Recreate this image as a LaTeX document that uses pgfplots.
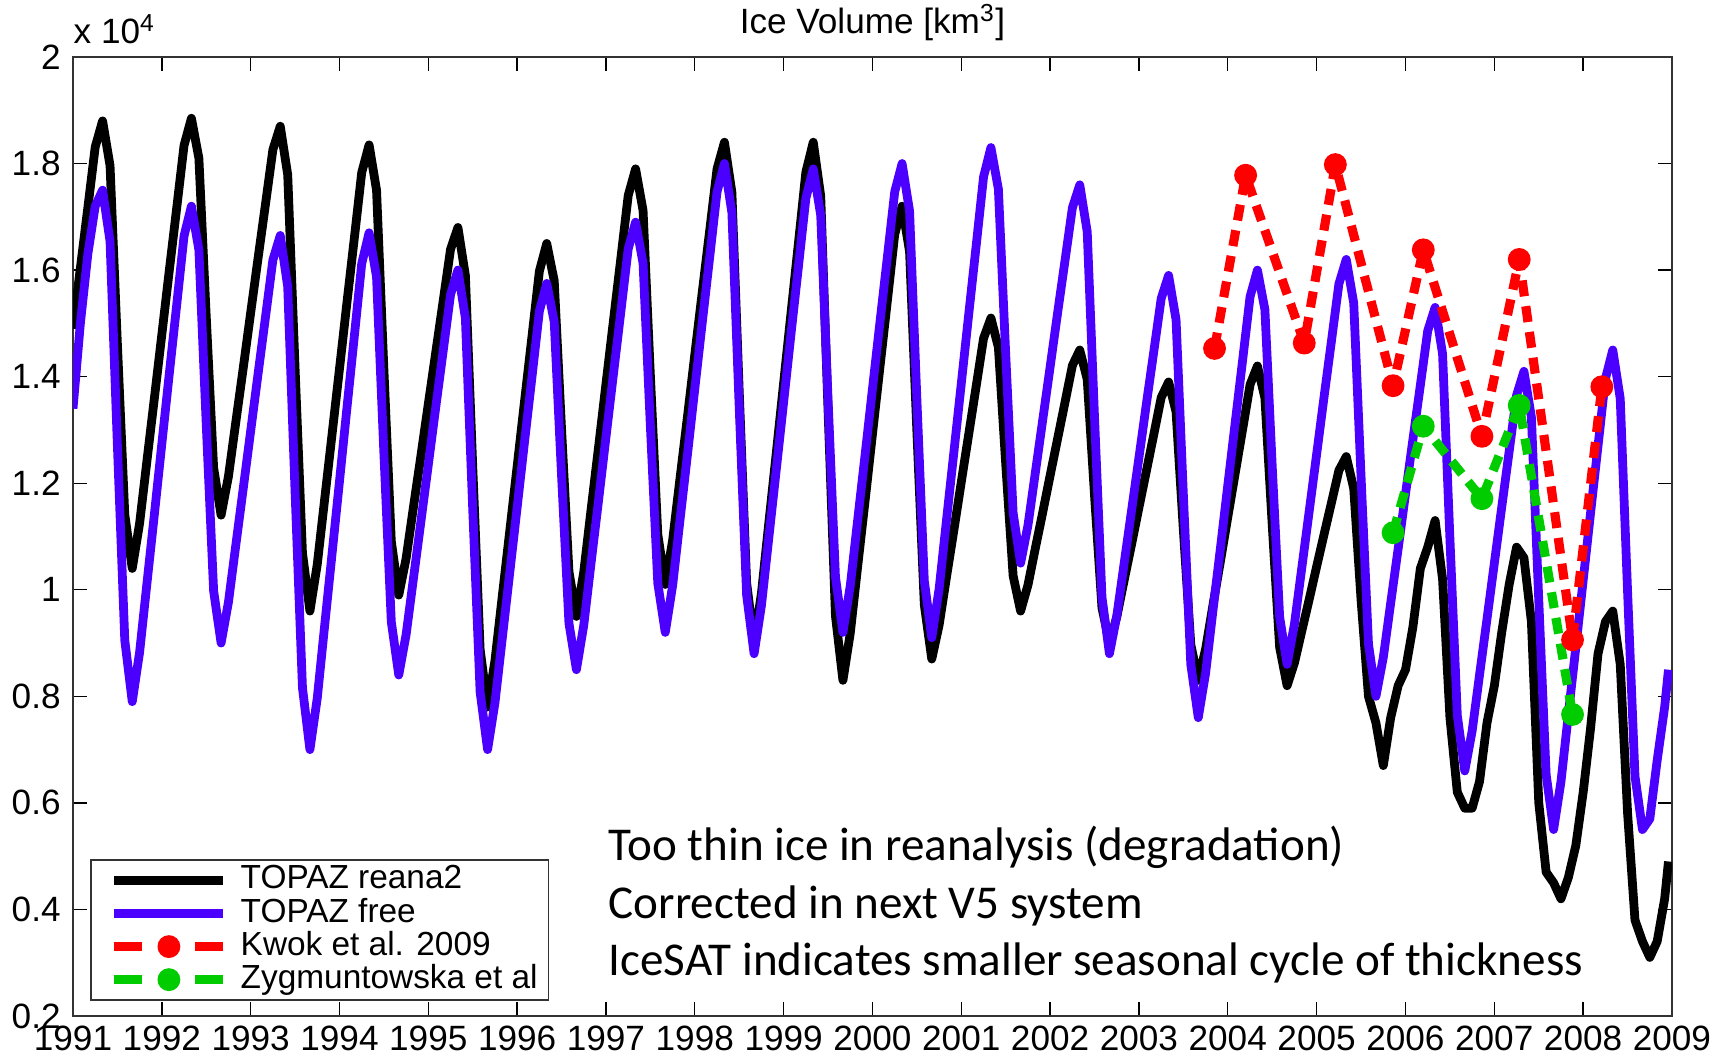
\documentclass[border=0pt]{standalone}
\usepackage{fontspec}
\setmainfont{Liberation Sans}
\newfontfamily\calibri{Carlito}
\usepackage{pgfplots}
\pgfplotsset{compat=1.18}
\definecolor{topazblue}{RGB}{75,0,255}
\definecolor{kwokred}{RGB}{255,0,0}
\definecolor{zyggreen}{RGB}{0,204,0}
% legend sample for the dashed series: dash, marker, dash
\pgfplotsset{dashlegend/.style={legend image code/.code={\path (0mm,0mm);
    \draw[##1,solid] (1mm,0mm) -- (3.8mm,0mm) (9.1mm,0mm) -- (11.9mm,0mm);
    \draw[##1] plot coordinates {(6.45mm,0mm)};}}}

\begin{document}
\begin{tikzpicture}
\begin{axis}[
  name=ax,
  at={(0,0)}, anchor=south west,
  scale only axis,
  width=159.9mm, height=95.9mm,
  xmin=1991, xmax=2009, ymin=0.2, ymax=2,
  xtick={1991,...,2009},
  ytick={0.2,0.4,0.6,0.8,1,1.2,1.4,1.6,1.8,2},
  tick align=inside,
  major tick length=1.4mm,
  tick style={black, line width=0.4pt},
  axis line style={black!80, line width=0.5pt},
  scaled ticks=false,
  xticklabel style={/pgf/number format/1000 sep=, inner ysep=0.9mm, text depth=0pt},
  /pgf/number format/assume math mode=true,
  tick label style={font=\fontsize{10}{12}\selectfont},
  legend image code/.code={\path (0mm,0mm); \draw[#1] (1mm,0mm) -- (11.9mm,0mm);},
  legend cell align=left,
  legend style={
    at={(0.0106,0.0156)}, anchor=south west,
    draw=black!80, line width=0.5pt, fill=white,
    font=\fontsize{9.5}{11}\selectfont,
    inner xsep=0.9mm, inner ysep=0.4mm,
    row sep=0pt,
    nodes={inner sep=0.5pt, text height=6.6pt, text depth=1.8pt},
    /tikz/every odd column/.append style={column sep=1.1mm},
  },
]
% TOPAZ reanalysis, monthly ice volume
\addplot[black, line width=2.5pt, line join=round] coordinates {
(1991.000,1.490) (1991.083,1.604) (1991.167,1.717) (1991.250,1.831) (1991.333,1.880) (1991.417,1.796) (1991.500,1.460) (1991.583,1.141) (1991.667,1.040) (1991.750,1.125) (1991.833,1.243) (1991.917,1.361)
(1992.000,1.479) (1992.083,1.598) (1992.167,1.716) (1992.250,1.834) (1992.333,1.885) (1992.417,1.810) (1992.500,1.512) (1992.583,1.229) (1992.667,1.140) (1992.750,1.213) (1992.833,1.315) (1992.917,1.417)
(1993.000,1.520) (1993.083,1.622) (1993.167,1.724) (1993.250,1.826) (1993.333,1.870) (1993.417,1.779) (1993.500,1.415) (1993.583,1.069) (1993.667,0.960) (1993.750,1.048) (1993.833,1.170) (1993.917,1.293)
(1994.000,1.415) (1994.083,1.538) (1994.167,1.660) (1994.250,1.783) (1994.333,1.835) (1994.417,1.750) (1994.500,1.412) (1994.583,1.091) (1994.667,0.990) (1994.750,1.059) (1994.833,1.156) (1994.917,1.252)
(1995.000,1.349) (1995.083,1.445) (1995.167,1.542) (1995.250,1.639) (1995.333,1.680) (1995.417,1.590) (1995.500,1.230) (1995.583,0.888) (1995.667,0.780) (1995.750,0.867) (1995.833,0.989) (1995.917,1.111)
(1996.000,1.232) (1996.083,1.354) (1996.167,1.476) (1996.250,1.598) (1996.333,1.650) (1996.417,1.580) (1996.500,1.300) (1996.583,1.034) (1996.667,0.950) (1996.750,1.034) (1996.833,1.152) (1996.917,1.269)
(1997.000,1.387) (1997.083,1.504) (1997.167,1.622) (1997.250,1.740) (1997.333,1.790) (1997.417,1.712) (1997.500,1.400) (1997.583,1.104) (1997.667,1.010) (1997.750,1.093) (1997.833,1.209) (1997.917,1.325)
(1998.000,1.442) (1998.083,1.558) (1998.167,1.674) (1998.250,1.790) (1998.333,1.840) (1998.417,1.746) (1998.500,1.370) (1998.583,1.013) (1998.667,0.900) (1998.750,0.994) (1998.833,1.126) (1998.917,1.257)
(1999.000,1.389) (1999.083,1.520) (1999.167,1.652) (1999.250,1.784) (1999.333,1.840) (1999.417,1.739) (1999.500,1.335) (1999.583,0.951) (1999.667,0.830) (1999.750,0.919) (1999.833,1.044) (1999.917,1.168)
(2000.000,1.293) (2000.083,1.417) (2000.167,1.542) (2000.250,1.667) (2000.333,1.720) (2000.417,1.635) (2000.500,1.295) (2000.583,0.972) (2000.667,0.870) (2000.750,0.934) (2000.833,1.024) (2000.917,1.113)
(2001.000,1.203) (2001.083,1.292) (2001.167,1.382) (2001.250,1.472) (2001.333,1.510) (2001.417,1.455) (2001.500,1.235) (2001.583,1.026) (2001.667,0.960) (2001.750,1.009) (2001.833,1.078) (2001.917,1.146)
(2002.000,1.215) (2002.083,1.283) (2002.167,1.352) (2002.250,1.421) (2002.333,1.450) (2002.417,1.395) (2002.500,1.175) (2002.583,0.966) (2002.667,0.900) (2002.750,0.949) (2002.833,1.018) (2002.917,1.086)
(2003.000,1.155) (2003.083,1.223) (2003.167,1.292) (2003.250,1.361) (2003.333,1.390) (2003.417,1.334) (2003.500,1.110) (2003.583,0.897) (2003.667,0.830) (2003.750,0.889) (2003.833,0.972) (2003.917,1.054)
(2004.000,1.137) (2004.083,1.219) (2004.167,1.302) (2004.250,1.385) (2004.333,1.420) (2004.417,1.360) (2004.500,1.120) (2004.583,0.892) (2004.667,0.820) (2004.750,0.863) (2004.833,0.923) (2004.917,0.983)
(2005.000,1.044) (2005.083,1.104) (2005.167,1.164) (2005.250,1.224) (2005.333,1.250) (2005.417,1.190) (2005.500,0.980) (2005.583,0.800) (2005.667,0.750) (2005.750,0.670) (2005.833,0.760) (2005.917,0.820)
(2006.000,0.850) (2006.083,0.930) (2006.167,1.040) (2006.250,1.080) (2006.333,1.130) (2006.417,1.020) (2006.500,0.760) (2006.583,0.620) (2006.667,0.590) (2006.750,0.590) (2006.833,0.640) (2006.917,0.750)
(2007.000,0.820) (2007.083,0.920) (2007.167,1.010) (2007.250,1.080) (2007.333,1.060) (2007.417,0.940) (2007.500,0.600) (2007.583,0.470) (2007.667,0.450) (2007.750,0.420) (2007.833,0.460) (2007.917,0.520)
(2008.000,0.620) (2008.083,0.740) (2008.167,0.880) (2008.250,0.940) (2008.333,0.960) (2008.417,0.860) (2008.500,0.580) (2008.583,0.380) (2008.667,0.340) (2008.750,0.310) (2008.833,0.340) (2008.917,0.420)
(2008.960,0.490)
};
\addlegendentry{TOPAZ reana2}
% TOPAZ free run, monthly ice volume
\addplot[topazblue, line width=2.5pt, line join=round] coordinates {
(1991.000,1.340) (1991.083,1.500) (1991.167,1.630) (1991.250,1.720) (1991.333,1.750) (1991.417,1.654) (1991.500,1.270) (1991.583,0.905) (1991.667,0.790) (1991.750,0.883) (1991.833,1.013) (1991.917,1.143)
(1992.000,1.274) (1992.083,1.404) (1992.167,1.534) (1992.250,1.664) (1992.333,1.720) (1992.417,1.638) (1992.500,1.310) (1992.583,0.998) (1992.667,0.900) (1992.750,0.977) (1992.833,1.084) (1992.917,1.191)
(1993.000,1.298) (1993.083,1.405) (1993.167,1.512) (1993.250,1.619) (1993.333,1.665) (1993.417,1.569) (1993.500,1.183) (1993.583,0.816) (1993.667,0.700) (1993.750,0.797) (1993.833,0.933) (1993.917,1.069)
(1994.000,1.204) (1994.083,1.340) (1994.167,1.476) (1994.250,1.612) (1994.333,1.670) (1994.417,1.587) (1994.500,1.255) (1994.583,0.940) (1994.667,0.840) (1994.750,0.916) (1994.833,1.022) (1994.917,1.129)
(1995.000,1.235) (1995.083,1.342) (1995.167,1.448) (1995.250,1.554) (1995.333,1.600) (1995.417,1.510) (1995.500,1.150) (1995.583,0.808) (1995.667,0.700) (1995.750,0.788) (1995.833,0.910) (1995.917,1.033)
(1996.000,1.155) (1996.083,1.278) (1996.167,1.400) (1996.250,1.523) (1996.333,1.575) (1996.417,1.503) (1996.500,1.213) (1996.583,0.937) (1996.667,0.850) (1996.750,0.934) (1996.833,1.052) (1996.917,1.169)
(1997.000,1.287) (1997.083,1.404) (1997.167,1.522) (1997.250,1.640) (1997.333,1.690) (1997.417,1.613) (1997.500,1.305) (1997.583,1.012) (1997.667,0.920) (1997.750,1.008) (1997.833,1.131) (1997.917,1.254)
(1998.000,1.378) (1998.083,1.501) (1998.167,1.624) (1998.250,1.747) (1998.333,1.800) (1998.417,1.708) (1998.500,1.340) (1998.583,0.990) (1998.667,0.880) (1998.750,0.971) (1998.833,1.098) (1998.917,1.226)
(1999.000,1.353) (1999.083,1.481) (1999.167,1.608) (1999.250,1.735) (1999.333,1.790) (1999.417,1.703) (1999.500,1.355) (1999.583,1.024) (1999.667,0.920) (1999.750,1.008) (1999.833,1.131) (1999.917,1.254)
(2000.000,1.378) (2000.083,1.501) (2000.167,1.624) (2000.250,1.747) (2000.333,1.800) (2000.417,1.711) (2000.500,1.355) (2000.583,1.017) (2000.667,0.910) (2000.750,1.002) (2000.833,1.131) (2000.917,1.260)
(2001.000,1.388) (2001.083,1.517) (2001.167,1.646) (2001.250,1.775) (2001.333,1.830) (2001.417,1.752) (2001.500,1.440) (2001.583,1.144) (2001.667,1.050) (2001.750,1.121) (2001.833,1.220) (2001.917,1.320)
(2002.000,1.419) (2002.083,1.519) (2002.167,1.618) (2002.250,1.717) (2002.333,1.760) (2002.417,1.672) (2002.500,1.320) (2002.583,0.986) (2002.667,0.880) (2002.750,0.951) (2002.833,1.050) (2002.917,1.150)
(2003.000,1.249) (2003.083,1.349) (2003.167,1.448) (2003.250,1.547) (2003.333,1.590) (2003.417,1.507) (2003.500,1.175) (2003.583,0.860) (2003.667,0.760) (2003.750,0.844) (2003.833,0.962) (2003.917,1.079)
(2004.000,1.197) (2004.083,1.314) (2004.167,1.432) (2004.250,1.550) (2004.333,1.600) (2004.417,1.526) (2004.500,1.230) (2004.583,0.949) (2004.667,0.860) (2004.750,0.936) (2004.833,1.042) (2004.917,1.149)
(2005.000,1.255) (2005.083,1.362) (2005.167,1.468) (2005.250,1.574) (2005.333,1.620) (2005.417,1.538) (2005.500,1.210) (2005.583,0.898) (2005.667,0.800) (2005.750,0.873) (2005.833,0.975) (2005.917,1.077)
(2006.000,1.180) (2006.083,1.282) (2006.167,1.384) (2006.250,1.486) (2006.333,1.530) (2006.417,1.443) (2006.500,1.095) (2006.583,0.764) (2006.667,0.660) (2006.750,0.735) (2006.833,0.840) (2006.917,0.945)
(2007.000,1.050) (2007.083,1.155) (2007.167,1.260) (2007.250,1.365) (2007.333,1.410) (2007.417,1.324) (2007.500,0.980) (2007.583,0.653) (2007.667,0.550) (2007.750,0.640) (2007.833,0.766) (2007.917,0.892)
(2008.000,1.018) (2008.083,1.144) (2008.167,1.270) (2008.250,1.396) (2008.333,1.450) (2008.417,1.359) (2008.500,0.995) (2008.583,0.650) (2008.667,0.550) (2008.750,0.570) (2008.833,0.680) (2008.917,0.780)
(2008.960,0.850)
};
\addlegendentry{TOPAZ free}
% ICESat estimates
\addplot[kwokred, line width=2.6pt, line join=round, dash pattern=on 1.6mm off 1.0mm,
  mark=*, mark size=3pt, mark options={solid, line width=0.5pt, fill=kwokred},
  dashlegend] coordinates {
(2003.85,1.453) (2004.20,1.778) (2004.86,1.463) (2005.21,1.798) (2005.86,1.383)
(2006.20,1.638) (2006.86,1.288) (2007.28,1.620) (2007.88,0.906) (2008.21,1.381)
};
\addlegendentry{Kwok et al. 2009}
\addplot[zyggreen, line width=2.6pt, line join=round, dash pattern=on 1.6mm off 1.0mm,
  mark=*, mark size=3pt, mark options={solid, line width=0.5pt, fill=zyggreen},
  dashlegend] coordinates {
(2005.86,1.107) (2006.20,1.307) (2006.86,1.171) (2007.28,1.346) (2007.88,0.766)
};
\addlegendentry{Zygmuntowska et al}
\end{axis}
\node[anchor=base, inner sep=0pt, font=\fontsize{10}{12}\selectfont] at ([yshift=2.3mm]ax.north) {Ice Volume [km\textsuperscript{3}]};
\node[anchor=base west, inner sep=0pt, font=\fontsize{10}{12}\selectfont] at ([yshift=1.3mm]ax.north west) {x 10\textsuperscript{4}};
\node[anchor=base west, inner sep=0pt, font=\calibri\fontsize{13.4}{16}\selectfont] at ([xshift=53.5mm,yshift=15.5mm]ax.south west) {Too thin ice in reanalysis (degradation)};
\node[anchor=base west, inner sep=0pt, font=\calibri\fontsize{13.4}{16}\selectfont] at ([xshift=53.5mm,yshift=9.8mm]ax.south west) {Corrected in next V5 system};
\node[anchor=base west, inner sep=0pt, font=\calibri\fontsize{13.4}{16}\selectfont] at ([xshift=53.5mm,yshift=4.1mm]ax.south west) {IceSAT indicates smaller seasonal cycle of thickness};
\pgfresetboundingbox
\path[use as bounding box] ([xshift=-7.3mm,yshift=-3.8mm]ax.south west) rectangle ([xshift=4.7mm,yshift=5.7mm]ax.north east);
\end{tikzpicture}
\end{document}
